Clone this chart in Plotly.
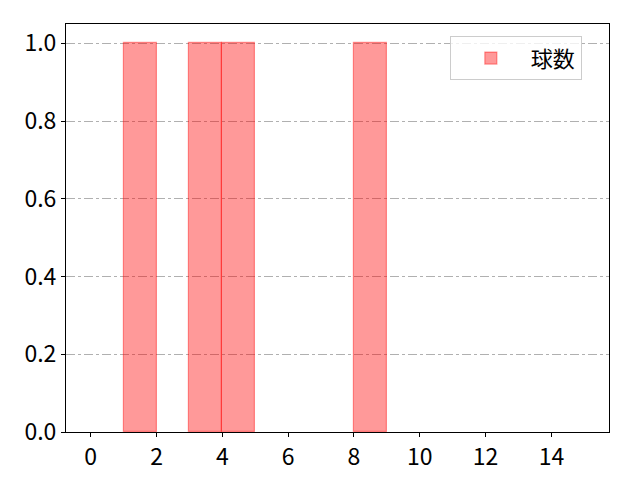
import plotly.graph_objects as go

# histogram bins (left edge) and counts
bin_left = [1, 3, 4, 8]
counts = [1, 1, 1, 1]
bin_width = 1
x_ticks = [0, 2, 4, 6, 8, 10, 12, 14]
y_ticks = [0.0, 0.2, 0.4, 0.6, 0.8, 1.0]

centers = [b + bin_width / 2 for b in bin_left]

fig = go.Figure()
fig.add_trace(go.Bar(
    x=centers, y=counts, width=bin_width, name="球数",
    marker=dict(color="rgba(255,0,0,0.4)",
                line=dict(color="rgba(255,0,0,0.4)", width=1.2)),
    showlegend=True,
))

# page body adds ~8px around the figure, so shrink to fit the window
font_name = "Noto Sans CJK JP"
fig.update_layout(
    width=632, height=472,
    margin=dict(l=58, r=31, t=16, b=48, autoexpand=False),
    plot_bgcolor="white", paper_bgcolor="white",
    font=dict(family=font_name, size=23, color="black"),
    bargap=0,
    legend=dict(x=0.95, y=0.97, xanchor="right", yanchor="top",
                bordercolor="#cccccc", borderwidth=1, bgcolor="rgba(255,255,255,0.8)",
                itemwidth=70, font=dict(size=22)),
)
fig.update_xaxes(range=[-0.75, 15.75], tickvals=x_ticks, showgrid=False,
                 showline=True, linecolor="black", linewidth=1, mirror=True,
                 ticks="outside", ticklen=4, tickcolor="black", zeroline=False)
fig.update_yaxes(range=[0, 1.05], tickvals=y_ticks, tickformat=".1f",
                 showgrid=True, gridcolor="#b0b0b0", griddash="dashdot", gridwidth=0.8,
                 showline=True, linecolor="black", linewidth=1, mirror=True,
                 ticks="outside", ticklen=4, tickcolor="black", zeroline=False)

fig.write_html("out.html")
